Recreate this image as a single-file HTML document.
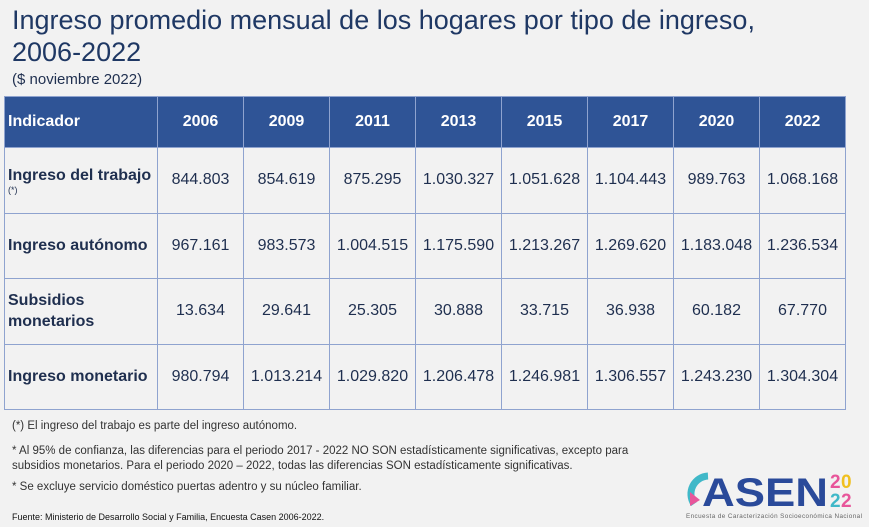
<!DOCTYPE html>
<html><head><meta charset="utf-8"><style>
body{margin:0;width:869px;height:526px;background:#f2f2f2;font-family:"Liberation Sans",sans-serif;color:#1f2f4f;position:relative;overflow:hidden}
h1{position:absolute;left:12px;top:4px;margin:0;font-weight:normal;font-size:27px;line-height:32px;color:#1f3864}
.sub{position:absolute;left:12px;top:71px;font-size:15px}
table{position:absolute;left:4px;top:96px;border-collapse:collapse;table-layout:fixed}
th{background:#2f5496;color:#fff;font-size:16px;height:50px;padding:0;text-align:center;border:1px solid #8fa3cf}
th:first-child{text-align:left;padding-left:3px}
td{height:64.5px;font-size:16px;text-align:center;border:1.5px solid #8fa3cf;padding:0}
td:first-child{text-align:left;font-weight:bold;padding-left:3px;line-height:21px}
.note{position:absolute;left:12px;font-size:11.5px;color:#333}
.logo{position:absolute;left:686px;top:466px}
</style></head><body>
<h1>Ingreso promedio mensual de los hogares por tipo de ingreso,<br>2006-2022</h1>
<div class="sub">($ noviembre 2022)</div>
<table>
<colgroup><col style="width:153px"><col span="8" style="width:86px"></colgroup>
<tr><th>Indicador</th><th>2006</th><th>2009</th><th>2011</th><th>2013</th><th>2015</th><th>2017</th><th>2020</th><th>2022</th></tr>
<tr><td>Ingreso del trabajo<br><span style="font-size:9px;font-weight:normal;line-height:9px;display:block">(*)</span></td><td>844.803</td><td>854.619</td><td>875.295</td><td>1.030.327</td><td>1.051.628</td><td>1.104.443</td><td>989.763</td><td>1.068.168</td></tr>
<tr><td>Ingreso autónomo</td><td>967.161</td><td>983.573</td><td>1.004.515</td><td>1.175.590</td><td>1.213.267</td><td>1.269.620</td><td>1.183.048</td><td>1.236.534</td></tr>
<tr><td>Subsidios<br>monetarios</td><td>13.634</td><td>29.641</td><td>25.305</td><td>30.888</td><td>33.715</td><td>36.938</td><td>60.182</td><td>67.770</td></tr>
<tr><td>Ingreso monetario</td><td>980.794</td><td>1.013.214</td><td>1.029.820</td><td>1.206.478</td><td>1.246.981</td><td>1.306.557</td><td>1.243.230</td><td>1.304.304</td></tr>
</table>
<div class="note" style="top:420px">(*) El ingreso del trabajo es parte del ingreso autónomo.</div>
<div class="note" style="top:444px;line-height:15px">* Al 95% de confianza, las diferencias para el periodo 2017 - 2022 NO SON estadísticamente significativas, excepto para<br>subsidios monetarios. Para el periodo 2020 – 2022, todas las diferencias SON estadísticamente significativas.</div>
<div class="note" style="top:481px">* Se excluye servicio doméstico puertas adentro y su núcleo familiar.</div>
<div class="note" style="top:512px;font-size:9px;color:#111">Fuente: Ministerio de Desarrollo Social y Familia, Encuesta Casen 2006-2022.</div>
<div class="logo">
<svg width="180" height="56">
<path d="M22 10 A18 18 0 0 0 8 38" stroke="#40b8c8" stroke-width="7" fill="none"/>
<path d="M4 26 L14 34 L4 40Z" fill="#e8559a"/>
<text x="16" y="40" font-family="Liberation Sans" font-weight="bold" font-size="40" fill="#2a4a9a" textLength="126" lengthAdjust="spacingAndGlyphs">ASEN</text>
<text x="144" y="22" font-family="Liberation Sans" font-weight="bold" font-size="19" fill="#e8559a">2</text><text x="155" y="22" font-family="Liberation Sans" font-weight="bold" font-size="19" fill="#f0c020">0</text>
<text x="144" y="41" font-family="Liberation Sans" font-weight="bold" font-size="19" fill="#40b8c8">2</text><text x="155" y="41" font-family="Liberation Sans" font-weight="bold" font-size="19" fill="#e8559a">2</text>
<text x="0" y="52" font-family="Liberation Sans" font-size="6.3" fill="#666" textLength="176">Encuesta de Caracterización Socioeconómica Nacional</text>
</svg></div>
</body></html>
